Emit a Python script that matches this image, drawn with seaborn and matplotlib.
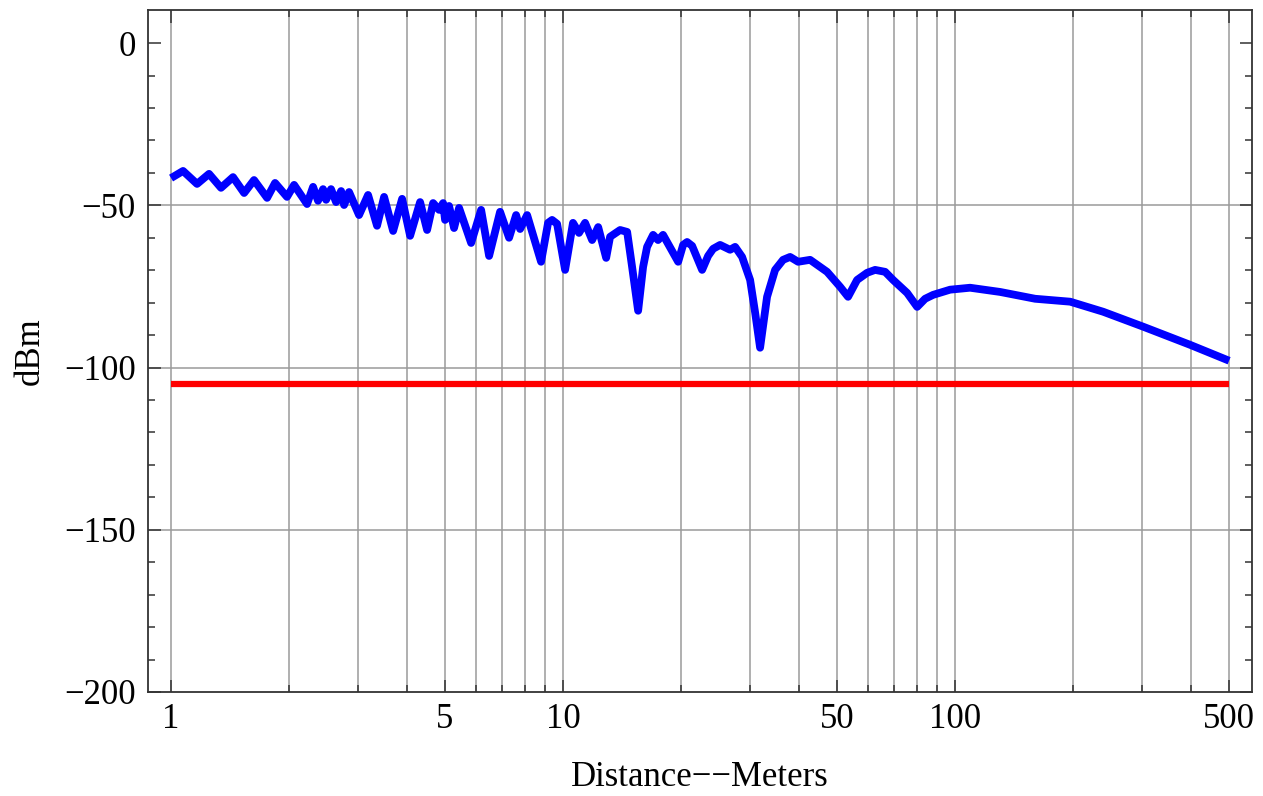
import matplotlib
matplotlib.use("Agg")
import matplotlib.pyplot as plt
import matplotlib.ticker as mticker
import seaborn as sns
import pandas as pd

# ---- data ----
distance_m = [
    1.0, 1.073, 1.165, 1.250, 1.341, 1.439, 1.536, 1.628, 1.758, 1.842,
    1.976, 2.060, 2.223, 2.303, 2.371, 2.442, 2.486, 2.559, 2.636, 2.715,
    2.763, 2.845, 3.017, 3.181, 3.353, 3.495, 3.685, 3.885, 4.072, 4.318,
    4.499, 4.661, 4.828, 4.943, 5.000, 5.119, 5.271, 5.429, 5.827, 6.179,
    6.476, 6.907, 7.282, 7.589, 7.769, 8.096, 8.788, 9.157, 9.375, 9.654,
    10.12, 10.60, 10.98, 11.38, 11.86, 12.29, 12.88, 13.18, 13.98, 14.57,
    15.00, 15.54, 16.00, 16.38, 16.97, 17.47, 17.99, 19.66, 20.24, 20.72,
    21.34, 22.63, 23.44, 24.14, 25.15, 26.67, 27.47, 28.62, 30.00, 30.90,
    31.81, 33.14, 34.74, 36.41, 37.94, 39.77, 42.67, 47.15, 50.89, 53.33,
    56.23, 59.64, 62.51, 66.30, 69.48, 75.44, 80.02, 83.85, 87.88, 97.1,
    109.2, 130.3, 160.0, 196.6, 238.6, 301.7, 397.7, 500.0,
]
received_dbm = [
    -41.6, -39.4, -43.4, -40.3, -44.6, -41.3, -46.2, -42.2, -47.7, -43.1,
    -47.4, -43.7, -49.6, -44.3, -48.6, -45.0, -48.3, -45.0, -49.0, -45.6,
    -49.9, -45.9, -53.0, -46.8, -56.3, -47.4, -57.9, -48.0, -59.4, -49.0,
    -57.6, -49.3, -51.4, -49.3, -54.5, -50.2, -57.0, -50.8, -61.6, -51.4,
    -65.6, -52.0, -60.0, -53.0, -57.3, -53.0, -67.4, -55.4, -54.5, -55.7,
    -69.9, -55.4, -58.5, -55.4, -60.7, -56.7, -66.2, -59.7, -57.6, -58.2,
    -69.0, -82.5, -69.0, -62.8, -59.1, -60.7, -59.1, -67.4, -62.2, -61.3,
    -62.5, -69.9, -65.6, -63.4, -62.2, -63.7, -62.8, -65.9, -73.0, -83.1,
    -93.9, -78.2, -69.9, -66.8, -65.9, -67.4, -66.8, -70.5, -75.1, -78.2,
    -73.0, -70.8, -69.9, -70.5, -73.0, -77.0, -81.3, -78.8, -77.6, -76.0,
    -75.4, -76.7, -78.8, -79.7, -82.8, -87.4, -93.0, -97.9,
]
sensitivity_x = [1.0, 500.0]
sensitivity_dbm = [-105.0, -105.0]

x_major_ticks = [1, 5, 10, 50, 100, 500]
x_major_labels = ["1", "5", "10", "50", "100", "500"]
x_minor_ticks = [2, 3, 4, 6, 7, 8, 9, 20, 30, 40, 60, 70, 80, 90, 200, 300, 400]
y_major_ticks = [-200, -150, -100, -50, 0]
y_major_labels = ["\u2212200", "\u2212150", "\u2212100", "\u221250", "0"]
y_minor_ticks = list(range(-190, 10, 10))
y_grid_lines = [-150, -100, -50]

x_label = "Distance\u2212\u2212Meters"
y_label = "dBm"

# ---- styling ----
sns.set_style("ticks")
plt.rcParams["font.family"] = ["Liberation Serif", "DejaVu Serif"]
plt.rcParams["text.color"] = "black"
plt.rcParams["axes.labelcolor"] = "black"
plt.rcParams["xtick.color"] = "#333333"
plt.rcParams["ytick.color"] = "#333333"
plt.rcParams["xtick.labelcolor"] = "black"
plt.rcParams["ytick.labelcolor"] = "black"

fig = plt.figure(figsize=(12.63, 7.96), dpi=100)
ax = fig.add_axes([0.1172, 0.1307, 0.8741, 0.8567])

grid_color = "#9a9a9a"
for xv in x_major_ticks + x_minor_ticks:
    ax.axvline(xv, color=grid_color, lw=1.1, zorder=0)
for yv in y_grid_lines:
    ax.axhline(yv, color=grid_color, lw=1.1, zorder=0)

df_sig = pd.DataFrame({"d": distance_m, "p": received_dbm})
df_sens = pd.DataFrame({"d": sensitivity_x, "p": sensitivity_dbm})

sns.lineplot(data=df_sens, x="d", y="p", color=(1, 0, 0), lw=4.5,
             estimator=None, sort=False, ax=ax, solid_capstyle="butt", zorder=3)
sns.lineplot(data=df_sig, x="d", y="p", color=(0, 0, 1), lw=5.6,
             estimator=None, sort=False, ax=ax, solid_capstyle="butt",
             solid_joinstyle="round", zorder=4)

ax.set_xscale("log")
ax.set_xlim(0.8735, 572)
ax.set_ylim(-200, 10.2)

ax.xaxis.set_major_locator(mticker.FixedLocator(x_major_ticks))
ax.xaxis.set_major_formatter(mticker.FixedFormatter(x_major_labels))
ax.xaxis.set_minor_locator(mticker.FixedLocator(x_minor_ticks))
ax.xaxis.set_minor_formatter(mticker.NullFormatter())
ax.yaxis.set_major_locator(mticker.FixedLocator(y_major_ticks))
ax.yaxis.set_major_formatter(mticker.FixedFormatter(y_major_labels))
ax.yaxis.set_minor_locator(mticker.FixedLocator(y_minor_ticks))

ax.tick_params(which="both", direction="in", top=True, right=True,
               width=1.1, labelsize=25)
ax.tick_params(which="major", length=9)
ax.tick_params(which="minor", length=5)
ax.tick_params(axis="x", which="major", pad=8)
ax.tick_params(axis="y", which="major", pad=9)

for s in ax.spines.values():
    s.set_color("#333333")
    s.set_linewidth(1.3)

ax.set_xlabel(x_label, fontsize=25, labelpad=18, color="black")
ax.set_ylabel(y_label, fontsize=25, labelpad=12, color="black")

fig.savefig("out.png", dpi=100, facecolor="white")
